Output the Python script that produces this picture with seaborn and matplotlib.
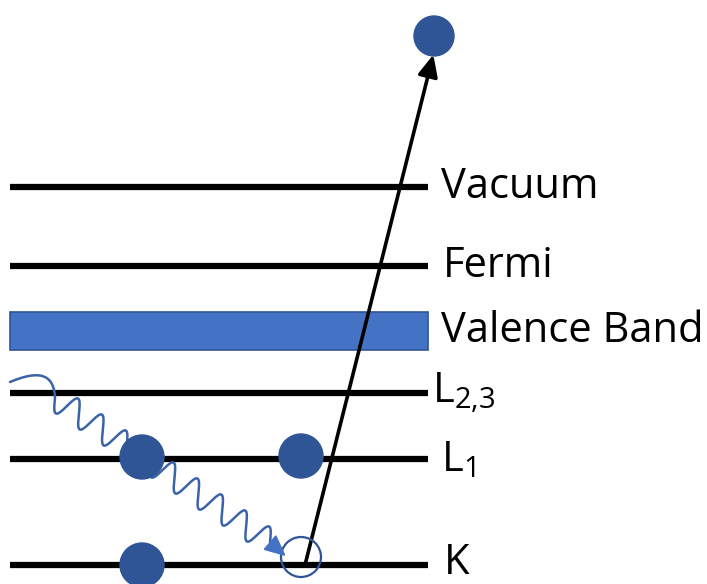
import numpy as np
import matplotlib
matplotlib.use("Agg")
import matplotlib.pyplot as plt
import seaborn as sns
from matplotlib.patches import Circle, Rectangle, FancyArrowPatch

sns.set_theme(style="white")
plt.rcParams["font.family"] = ["Open Sans", "DejaVu Sans"]
plt.rcParams["mathtext.default"] = "regular"

# energy levels (pixel rows on the 707x584 canvas, y grows downward)
level_names = ["Vacuum", "Fermi", "L$_{2{,}3}$", "L$_1$", "K"]
level_y = [187, 266, 393, 459, 565]
label_y = [187, 266, 393, 460, 563]
label_x = [441, 443, 432, 441, 444]

band_name = "Valence Band"
band_top, band_bottom = 312, 350

line_x0, line_x1 = 10, 428

# electrons: (x, y) of filled and empty states
electron_x = [142, 301, 142, 434]
electron_y = [457, 456, 565, 36]
hole_x, hole_y = 301, 557

blue_dark = "#2F5597"
blue_mid = "#4472C4"
blue_wave = "#3B63A8"

fig = plt.figure(figsize=(7.07, 5.84), dpi=100)
ax = fig.add_axes([0, 0, 1, 1])
ax.set_xlim(0, 707)
ax.set_ylim(584, 0)
ax.set_axis_off()

# level lines
sns.lineplot(ax=ax, x=[line_x0, line_x1], y=[level_y[0]] * 2, color="black", lw=4.5)
for y in level_y[1:]:
    ax.plot([line_x0, line_x1], [y, y], color="black", lw=4.5, solid_capstyle="butt")
ax.lines[0].set_solid_capstyle("butt")

# valence band
ax.add_patch(Rectangle((line_x0, band_top), line_x1 - line_x0, band_bottom - band_top,
                       facecolor=blue_mid, edgecolor=blue_dark, lw=1.2))

# labels
for name, x, y in zip(level_names, label_x, label_y):
    ax.text(x, y, name, fontsize=30, va="center", ha="left", color="black")
ax.text(441, (band_top + band_bottom) / 2, band_name, fontsize=30, va="center",
        ha="left", color="black")

# photoelectron arrow from K hole to escaping electron
ax.add_patch(FancyArrowPatch((hole_x + 4, 565), (electron_x[3], electron_y[3] + 16),
                             arrowstyle="-|>,head_length=13,head_width=6",
                             color="black", lw=2.6, mutation_scale=1))

# electrons
for x, y in zip(electron_x, electron_y):
    r = 20 if y < 100 else 22
    ax.add_patch(Circle((x, y), r, facecolor=blue_dark, edgecolor=blue_dark, zorder=5))
ax.add_patch(Circle((hole_x, hole_y), 20, facecolor="none", edgecolor=blue_dark,
                    lw=1.6, zorder=5))

# incoming photon: hump, then wiggles, then arrow head
b = np.linspace(0, 1, 60)[:, None]
P = np.array([[10, 382], [34, 372], [54, 370], [55, 398]], dtype=float)
hump = ((1 - b) ** 3 * P[0] + 3 * (1 - b) ** 2 * b * P[1]
        + 3 * (1 - b) * b ** 2 * P[2] + b ** 3 * P[3])
p0 = P[3]
p1 = np.array([270.0, 542.0])
v = np.array([0.42, -0.91])
s = np.linspace(0, 1, 1200)[:, None]
wig = p0 + (p1 - p0) * s + 12.5 * np.sin(np.pi + 2 * np.pi * 9 * s) * v
tail = np.array([[p1[0], p1[1]], [276, 548]])
path = np.vstack([hump, wig, tail])
ax.plot(path[:, 0], path[:, 1], color=blue_wave, lw=1.8, zorder=4,
        solid_joinstyle="round")
ax.add_patch(FancyArrowPatch((274, 546), (288, 558),
                             arrowstyle="-|>,head_length=13,head_width=6",
                             color=blue_mid, lw=1.5, mutation_scale=1, zorder=6))

fig.savefig("out.png", dpi=100)
